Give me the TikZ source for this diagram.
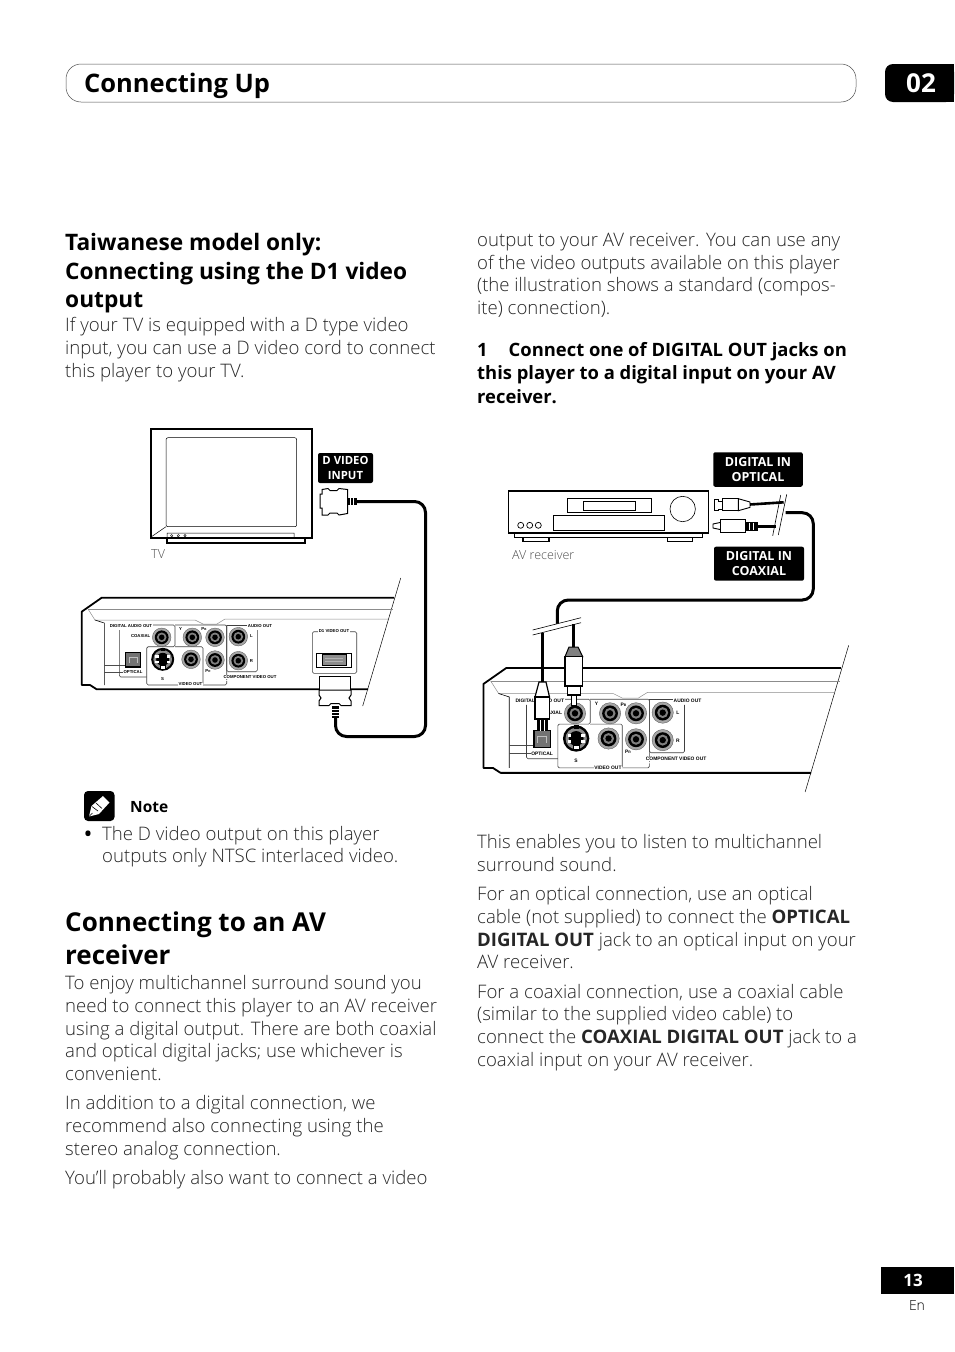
\documentclass[tikz,border=0pt]{standalone}
\usepackage{fontspec}
\setmainfont{Open Sans Light}[BoldFont={Open Sans Bold}]
\newfontfamily\labelfont{Liberation Sans}
\usetikzlibrary{positioning}
\tikzset{
    bodytext/.style={anchor=base west,inner sep=0pt,font=\fontsize{18.6}{23}\selectfont,text=black!85},
    bodybold/.style={bodytext,font=\fontsize{18.4}{23}\selectfont\bfseries,text=black},
    headsmall/.style={anchor=base west,inner sep=0pt,font=\fontsize{22.7}{28}\selectfont\bfseries},
    headbig/.style={anchor=base west,inner sep=0pt,font=\fontsize{26}{33}\selectfont\bfseries},
    blacktag/.style={fill=black,text=white,rounded corners=2,inner sep=0pt,align=center,font=\fontsize{12.5}{15.5}\selectfont\bfseries},
    devlabel/.style={anchor=base west,inner sep=0pt,font=\fontsize{12.5}{15}\selectfont,text=black!70},
    paneltext/.style={inner sep=0pt,transform shape,font=\labelfont\fontsize{4.3}{5}\selectfont\bfseries},
    panelgroup/.style={line width=0.6pt,black!75,rounded corners=1.5},
    cable/.style={line width=3pt,rounded corners=11},
    thincable/.style={line width=2.6pt},
    plug/.style={fill=white,draw=black,line width=1pt},
    neck/.style={fill=black,inner sep=0pt},
    breakline/.style={line width=0.6pt}
}
\newcommand{\rearpanel}[1]{
    \draw[line width=1.8pt,line join=round] (394,597.7)--(101.7,597.7)--(81.7,611.7)--(81.7,685)--(90,685)--(96.7,689.3)--(368,689.3);
    \draw[line width=0.5pt] (400.7,578)--(362.7,706);
    \draw[line width=0.5pt,black!45] (88,609)--(393,609);
    \draw[line width=0.5pt,black!45] (88,609)--(95,620)--(195,620)--(203,624)--(217,624)--(225,619)--(388,619);
    \draw[line width=0.6pt] (95,620)--(104.3,623)--(104.3,685);
    \draw[line width=0.6pt,black!70] (104.3,665)--(125,665) (104.3,672)--(125,672);
    \draw[panelgroup] (119.3,630)--(119.3,677)--(146.7,677);
    \draw[panelgroup] (152.5,625)--(175,625)--(175,646.7)--(146.7,646.7)--(146.7,685)--(179,685);
    \draw[panelgroup] (175,646.7)--(203,646.7)--(203,685)--(200,685);
    \draw[panelgroup] (175,625)--(226.7,625)--(226.7,680);
    \draw[panelgroup] (203,685)--(226.7,685)--(226.7,681);
    \draw[panelgroup] (226.7,625)--(226.7,671.7)--(257.3,671.7)--(257.3,630);
    \draw[panelgroup] (226.7,625)--(247,625);
    \node[paneltext,fill=white,inner xsep=1pt] (#1digital) at (131,626) {DIGITAL AUDIO OUT};
    \node[paneltext,fill=white,inner xsep=1pt] (#1audio) at (260,626) {AUDIO OUT};
    \node[paneltext] (#1coax) at (140.7,636.5) {COAXIAL};
    \node[paneltext,fill=white,inner xsep=0.5pt] (#1optical) at (133,672.5) {OPTICAL};
    \node[paneltext] (#1y) at (180.5,629) {Y};
    \node[paneltext] (#1pb) at (204,629.5) {P\scalebox{0.7}{B}};
    \node[paneltext] (#1pr) at (208,671) {P\scalebox{0.7}{R}};
    \node[paneltext] (#1l) at (251.5,636.5) {L};
    \node[paneltext] (#1r) at (251.5,661) {R};
    \node[paneltext] (#1s) at (162.5,679) {S};
    \node[paneltext,fill=white,inner xsep=0.5pt] (#1video) at (190.5,684.5) {VIDEO OUT};
    \node[paneltext,fill=white,inner xsep=0.5pt] (#1comp) at (250,677) {COMPONENT VIDEO OUT};
    \foreach \jx/\jy in {161.7/637.3,192.3/637.3,215/637.3,238.3/636.7,238.3/660.7,215/660,191/659.3}{
        \filldraw[fill=black!35,draw=black!70,line width=0.3pt] (\jx,\jy) circle (9.3);
        \fill[black] (\jx,\jy) circle (6.9);
        \fill[black!50] (\jx,\jy) circle (4.8);
        \fill[black] (\jx,\jy) circle (2.8);
    }
    \fill[black] (162.7,659.3) circle (11.5);
    \fill[black!45] (162.7,659.3) circle (9.3);
    \fill[black] (162.7,659.3) circle (6.5);
    \fill[black] (160.5,647.5) rectangle (165,651);
    \foreach \jx/\jy in {157/656.5,168.5/656.5,157/662,168.5/662}{
        \fill[white] (\jx-1.6,\jy-1.2) rectangle (\jx+1.6,\jy+1.2);
    }
    \filldraw[fill=white,draw=black,line width=0.4pt] (160,665.5) rectangle (165.5,669);
    \filldraw[fill=black!55,draw=black,line width=1.5pt] (125.7,652.5) rectangle (140.5,667);
    \draw[black!25,line width=0.6pt] (129,663)--(129,657)--(137,657)--(137,663);
}
\begin{document}
\begin{tikzpicture}[x=1pt,y=-1pt]
    \useasboundingbox (0,0) rectangle (954,1352);
    \draw[line width=0.5pt,black!70,rounded corners=15] (66,64) rectangle (856,102);
    \node[anchor=base west,inner sep=0pt,font=\fontsize{25.5}{30}\selectfont\bfseries] (pagetitle) at (84,92) {Connecting Up};
    \fill[black,rounded corners=8] (885,64)--(954,64)--(954,102)--(885,102)--cycle;
    \fill[black] (900,64) rectangle (954,102);
    \node[text=white,inner sep=0pt,font=\fontsize{26}{30}\selectfont\bfseries] (chapter) at (921,83) {02};
    \foreach \ly/\lt [count=\i] in {250/{Taiwanese model only:},279/{Connecting using the D1 video},307/{output}}
        \node[headsmall] (taiwan\i) at (65,\ly) {\lt};
    \foreach \ly/\lt [count=\i] in {331/{If your TV is equipped with a D type video},354/{input, you can use a D video cord to connect},377/{this player to your TV.}}
        \node[bodytext] (intro\i) at (65,\ly) {\lt};
    \foreach \ly/\lt [count=\i] in {246/{output to your AV receiver. You can use any},269/{of the video outputs available on this player},291/{(the illustration shows a standard (compos-},314/{ite) connection).}}
        \node[bodytext] (video\i) at (477,\ly) {\lt};
    \foreach \ly/\lt [count=\i] in {356/{1\hspace{21pt}Connect one of DIGITAL OUT jacks on},379/{this player to a digital input on your AV},403/{receiver.}}
        \node[bodybold] (stepone\i) at (477,\ly) {\lt};
    \fill[black,rounded corners=4] (84,791) rectangle (114.5,821);
    \fill[white] (89,816.5)--(91.5,806)--(103,796)--(109.5,802.5)--(99,814)--cycle;
    \draw[black,line width=0.6pt] (92,806.5)--(98,811) (96,803)--(102,808.5) (89,816.5)--(92.5,813);
    \node[anchor=base west,inner sep=0pt,font=\fontsize{15.5}{18}\selectfont\bfseries] (note) at (130,812.5) {Note};
    \node[bodybold] (bullet) at (84.5,840) {•};
    \node[bodytext] (notea) at (102,840) {The D video output on this player};
    \node[bodytext] (noteb) at (102,862) {outputs only NTSC interlaced video.};
    \node[headbig] (avhead1) at (65,931) {Connecting to an AV};
    \node[headbig] (avhead2) at (65,964) {receiver};
    \foreach \ly/\lt [count=\i] in {989/{To enjoy multichannel surround sound you},1012/{need to connect this player to an AV receiver},1035/{using a digital output. There are both coaxial},1057/{and optical digital jacks; use whichever is},1080/{convenient.},1109/{In addition to a digital connection, we},1132/{recommend also connecting using the},1155/{stereo analog connection.},1184/{You’ll probably also want to connect a video}}
        \node[bodytext] (left\i) at (65,\ly) {\lt};
    \foreach \ly/\lt [count=\i] in {848/{This enables you to listen to multichannel},871/{surround sound.},900/{For an optical connection, use an optical},923/{cable (not supplied) to connect the \textbf{OPTICAL}},946/{\textbf{DIGITAL OUT} jack to an optical input on your},968/{AV receiver.},998/{For a coaxial connection, use a coaxial cable},1020/{(similar to the supplied video cable) to},1043/{connect the \textbf{COAXIAL DIGITAL OUT} jack to a},1066/{coaxial input on your AV receiver.}}
        \node[bodytext] (right\i) at (477,\ly) {\lt};
    \fill[black] (881,1267) rectangle (954,1294);
    \node[text=white,inner sep=0pt,font=\fontsize{17}{20}\selectfont\bfseries] (pagenum) at (913,1280.5) {13};
    \node[inner sep=0pt,font=\fontsize{14}{16}\selectfont] (lang) at (917,1305) {En};
    \draw[line width=2.2pt] (150.7,429.3) rectangle (312.3,538.3);
    \draw[line width=1.5pt] (167,538.3)--(167,543)--(305,543)--(305,538.3);
    \draw[line width=0.5pt,rounded corners=2] (166,437.7) rectangle (296.7,526.7);
    \draw[line width=0.5pt] (166,526.7)--(151,537) (167,537.5)--(167,533)--(294,533)--(294,537.5);
    \draw[line width=0.4pt] (171.7,535.7) circle (1.2) (178.3,535.7) circle (1.2) (185,535.7) circle (1.2);
    \node[devlabel] (tv) at (151,558.5) {TV};
    \node[blacktag,minimum width=55pt,minimum height=30pt,font=\fontsize{11.3}{15}\selectfont\bfseries] (dinput) at (345.5,468) {D VIDEO\\INPUT};
    \rearpanel{d}
    \draw[panelgroup] (312.3,631.7) rectangle (356.7,673.3);
    \node[draw,line width=0.6pt,minimum width=35pt,minimum height=14pt,inner sep=0pt] (dport) at (334.2,660) {};
    \filldraw[fill=black!45,draw=black,line width=1pt] (322,654.5) rectangle (346,665.5);
    \draw[black!30,line width=0.5pt] (325,658)--(343,658) (325,661.5)--(343,661.5);
    \node[paneltext,fill=white,inner xsep=1pt] (dvideo) at (334,631) {D1 VIDEO OUT};
    \node[plug,minimum width=31.5pt,minimum height=14pt,inner sep=0pt] (dplugb) at (335,683) {};
    \filldraw[fill=white,draw=black,line width=1pt] (319,690)--(351,690)--(351,695)--(349,698)--(351,701)--(351,705.5)--(341,705.5)--(339,703.5)--(331,703.5)--(329,705.5)--(319,705.5)--(319,701)--(321,698)--(319,695)--cycle;
    \node[neck,minimum width=7.5pt,minimum height=11.5pt] (dneckb) at (335.5,712) {};
    \draw[white,line width=0.6pt] (332,709)--(339,709) (332,712)--(339,712) (332,715)--(339,715);
    \filldraw[fill=white,draw=black,line width=1pt] (322,489.5)--(328,488.5)--(330,490.5)--(337,490.5)--(339,488.5)--(347.5,489.5)--(347.5,513.5)--(339,515)--(337,513)--(330,513)--(328,515)--(322,515)--(322,508)--(320,508)--(320,494)--(322,494)--cycle;
    \node[neck,minimum width=9pt,minimum height=7pt] (dneckt) at (352.5,501.5) {};
    \draw[white,line width=0.6pt] (350,498)--(350,505) (353,498)--(353,505);
    \coordinate (dbenda) at (425.5,501.5);
    \coordinate (dbendb) at (425.5,736.5);
    \coordinate (dbendc) at (335.5,736.5);
    \draw[cable] (dneckt.east)--(dbenda)--(dbendb)--(dbendc)--(dneckb.south);
    \begin{scope}[shift={(389.85,-16.4)},scale=1.145]
        \rearpanel{a}
    \end{scope}
    \draw[line width=1.6pt] (508.3,490.7) rectangle (708.3,532.7);
    \draw[line width=1.2pt] (514.3,532.7)--(514.3,537.3)--(702.7,537.3)--(702.7,532.7);
    \draw[line width=1.2pt] (523,537.3)--(523,541.7)--(549,541.7)--(549,537.3) (667.3,537.3)--(667.3,541.7)--(692.7,541.7)--(692.7,537.3);
    \draw[line width=0.6pt] (567.3,498.3) rectangle (651,512.3) (553.3,515.3) rectangle (664.3,530.3);
    \draw[line width=0.9pt] (583.3,501) rectangle (635.7,510.7);
    \draw[line width=0.6pt] (682.7,509) circle (12.7);
    \draw[line width=0.7pt] (520.7,525.3) circle (3) (529.7,525.3) circle (3) (538.3,525.3) circle (3);
    \node[devlabel] (receiver) at (512,559) {AV receiver};
    \node[blacktag,minimum width=89.5pt,minimum height=34.5pt] (inoptical) at (758,469.5) {DIGITAL IN\\OPTICAL};
    \node[blacktag,minimum width=90pt,minimum height=34pt] (incoaxial) at (759,563.7) {DIGITAL IN\\COAXIAL};
    \coordinate (breakot) at (783.7,502.3);
    \coordinate (breakct) at (775.5,526.3);
    \coordinate (breakcr) at (785.5,512.7);
    \coordinate (breakb) at (557.3,628);
    \coordinate (breakob) at (542.3,632.5);
    \coordinate (breakcb) at (573.3,624);
    \coordinate (coaxbenda) at (813.3,512.7);
    \coordinate (coaxbendb) at (813.3,600);
    \coordinate (coaxbendc) at (557.3,600);
    \draw[line width=0.9pt] (714.5,499.5)--(718,499.5)--(718,501)--(722.7,501)--(722.7,509)--(718,509)--(718,510)--(714.5,510)--cycle;
    \node[plug,minimum width=15.5pt,minimum height=12pt,inner sep=0pt] (otopbody) at (730.5,504.7) {};
    \filldraw[fill=white,draw=black,line width=0.9pt] (738.3,498.7)--(750,502)--(750,507.4)--(738.3,510.7)--cycle;
    \coordinate (otopend) at (750,504.5);
    \draw[thincable] (otopend)--(breakot);
    \node[plug,minimum width=25pt,minimum height=12.5pt,inner sep=0pt] (ctopbody) at (732.5,526) {};
    \draw[line width=0.9pt] (720,522.5)--(713,524)--(713,528)--(720,529.5);
    \filldraw[fill=black,draw=black] (745,522.5) rectangle (757,530);
    \draw[white,line width=0.6pt] (749,522.5)--(749,530) (753,522.5)--(753,530);
    \coordinate (ctopend) at (757,526.3);
    \draw[thincable] (ctopend)--(breakct);
    \draw[breakline] (780.7,495)--(772.7,535.7);
    \draw[breakline] (786.7,494.3)--(778.3,535);
    \draw[cable] (breakcr)--(coaxbenda)--(coaxbendb)--(coaxbendc)--(breakb);
    \fill[white] (532.7,630)--(581,617.7)--(581,622.7)--(532.7,635)--cycle;
    \draw[breakline] (532.7,630)--(581,617.7) (532.7,635)--(581,622.7);
    \draw[thincable] (breakob)--(542.3,682);
    \draw[thincable] (breakcb)--(573.3,647);
    \filldraw[fill=white,draw=black,line width=1.2pt] (539,682)--(546,682)--(549.5,697)--(535,697)--cycle;
    \node[plug,line width=1.2pt,minimum width=14.5pt,minimum height=22pt,inner sep=0pt] (oplug) at (542.3,708) {};
    \fill[black] (537,719)--(548,719)--(548,731)--(537,731)--cycle;
    \draw[white,line width=0.8pt] (540.5,720)--(540.5,731) (544.5,720)--(544.5,731);
    \filldraw[fill=black!50,draw=black,line width=1pt] (569,647)--(578,647)--(582.7,656.7)--(565,656.7)--cycle;
    \node[plug,line width=1.2pt,minimum width=17.7pt,minimum height=29.3pt,inner sep=0pt] (cplug) at (573.8,671.3) {};
    \node[plug,line width=1.2pt,minimum width=13pt,minimum height=9pt,inner sep=0pt] (cneck) at (573.8,690.5) {};
    \node[plug,line width=0.8pt,minimum width=4.5pt,minimum height=10pt,inner sep=0pt] (cpin) at (573.8,700) {};
\end{tikzpicture}
\end{document}
